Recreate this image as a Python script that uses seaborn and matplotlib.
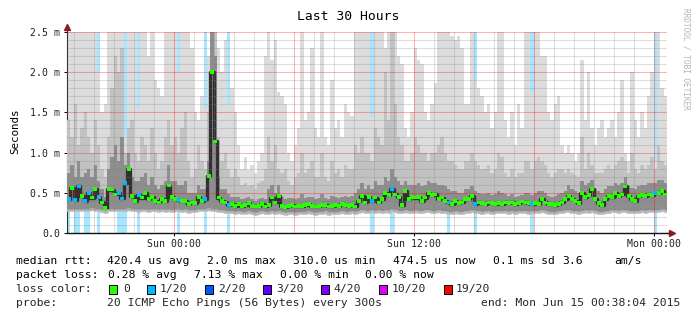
import numpy as np
import pandas as pd
import matplotlib
matplotlib.use("Agg")
import matplotlib.pyplot as plt
from matplotlib.patches import Rectangle
import seaborn as sns

# ---------------- data (10-minute steps, ms) ----------------
STEP_H = 1 / 6  # hours per sample

median_ms = [
    0.42, 0.56, 0.41, 0.58, 0.46, 0.40, 0.50, 0.44, 0.55, 0.45,
    0.38, 0.31, 0.55, 0.54, 0.48, 0.50, 0.43, 0.62, 0.80, 0.46,
    0.40, 0.47, 0.44, 0.50, 0.42, 0.45, 0.40, 0.38, 0.42, 0.40,
    0.59, 0.45, 0.42, 0.41, 0.40, 0.40, 0.36, 0.38, 0.37, 0.45,
    0.40, 0.42, 0.71, 2.00, 1.14, 0.44, 0.40, 0.38, 0.35, 0.36,
    0.34, 0.36, 0.34, 0.35, 0.37, 0.34, 0.33, 0.34, 0.36, 0.33,
    0.35, 0.44, 0.38, 0.46, 0.34, 0.32, 0.34, 0.35, 0.33, 0.34,
    0.34, 0.35, 0.36, 0.34, 0.33, 0.34, 0.35, 0.35, 0.33, 0.34,
    0.35, 0.34, 0.36, 0.35, 0.34, 0.35, 0.33, 0.40, 0.46, 0.38,
    0.45, 0.40, 0.44, 0.38, 0.42, 0.50, 0.47, 0.55, 0.48, 0.45,
    0.35, 0.52, 0.42, 0.45, 0.44, 0.45, 0.40, 0.44, 0.50, 0.47,
    0.48, 0.42, 0.44, 0.40, 0.38, 0.36, 0.40, 0.37, 0.38, 0.42,
    0.42, 0.46, 0.36, 0.38, 0.37, 0.36, 0.38, 0.37, 0.36, 0.37,
    0.36, 0.38, 0.37, 0.38, 0.36, 0.37, 0.39, 0.38, 0.37, 0.36,
    0.37, 0.36, 0.42, 0.38, 0.36, 0.36, 0.35, 0.36, 0.38, 0.42,
    0.46, 0.42, 0.40, 0.37, 0.50, 0.45, 0.47, 0.55, 0.42, 0.37,
    0.35, 0.42, 0.46, 0.45, 0.50, 0.46, 0.48, 0.58, 0.46, 0.42,
    0.40, 0.46, 0.47, 0.46, 0.48, 0.47, 0.50, 0.50, 0.52, 0.48,
]

loss_count = [
    1, 0, 1, 1, 0, 1, 1, 0, 0, 1,
    0, 0, 0, 0, 0, 1, 1, 1, 0, 0,
    0, 1, 0, 0, 0, 0, 0, 0, 0, 0,
    0, 0, 0, 1, 0, 0, 0, 0, 0, 0,
    0, 1, 0, 0, 0, 0, 0, 0, 1, 0,
    0, 0, 0, 0, 0, 0, 0, 0, 0, 0,
    0, 0, 0, 0, 0, 0, 0, 0, 0, 0,
    0, 0, 0, 0, 0, 0, 0, 0, 0, 0,
    0, 0, 0, 0, 0, 0, 0, 0, 0, 0,
    0, 1, 0, 0, 0, 0, 0, 1, 0, 0,
    0, 0, 0, 0, 0, 0, 0, 0, 0, 0,
    0, 0, 0, 0, 1, 0, 0, 0, 0, 0,
    0, 0, 1, 0, 0, 0, 0, 0, 0, 0,
    0, 0, 0, 0, 0, 0, 0, 0, 0, 1,
    0, 0, 0, 0, 0, 0, 0, 0, 0, 0,
    0, 0, 0, 0, 0, 0, 0, 0, 0, 0,
    0, 0, 0, 0, 0, 0, 0, 0, 0, 0,
    0, 0, 0, 0, 0, 0, 1, 0, 0, 0,
]

smoke_min = [
    0.29, 0.28, 0.29, 0.28, 0.29, 0.28, 0.29, 0.30, 0.28, 0.29,
    0.27, 0.26, 0.28, 0.29, 0.28, 0.29, 0.28, 0.29, 0.30, 0.28,
    0.28, 0.27, 0.28, 0.28, 0.27, 0.28, 0.28, 0.27, 0.28, 0.27,
    0.28, 0.27, 0.28, 0.29, 0.27, 0.28, 0.26, 0.27, 0.27, 0.28,
    0.28, 0.29, 0.30, 0.29, 0.28, 0.27, 0.27, 0.26, 0.26, 0.26,
    0.25, 0.26, 0.25, 0.25, 0.26, 0.25, 0.24, 0.25, 0.26, 0.25,
    0.25, 0.26, 0.25, 0.26, 0.25, 0.24, 0.25, 0.25, 0.24, 0.25,
    0.25, 0.25, 0.26, 0.25, 0.24, 0.25, 0.25, 0.26, 0.24, 0.25,
    0.25, 0.25, 0.26, 0.25, 0.25, 0.26, 0.25, 0.26, 0.27, 0.26,
    0.26, 0.27, 0.26, 0.27, 0.26, 0.27, 0.26, 0.28, 0.27, 0.26,
    0.26, 0.27, 0.26, 0.26, 0.27, 0.26, 0.26, 0.27, 0.27, 0.26,
    0.26, 0.27, 0.26, 0.26, 0.25, 0.25, 0.26, 0.25, 0.25, 0.26,
    0.26, 0.27, 0.26, 0.26, 0.25, 0.26, 0.26, 0.25, 0.26, 0.26,
    0.26, 0.26, 0.25, 0.26, 0.25, 0.26, 0.26, 0.26, 0.25, 0.26,
    0.26, 0.26, 0.27, 0.26, 0.25, 0.25, 0.25, 0.26, 0.26, 0.27,
    0.27, 0.26, 0.26, 0.25, 0.26, 0.27, 0.26, 0.27, 0.26, 0.25,
    0.25, 0.26, 0.26, 0.27, 0.27, 0.26, 0.27, 0.27, 0.26, 0.26,
    0.26, 0.26, 0.27, 0.26, 0.27, 0.27, 0.27, 0.27, 0.28, 0.27,
]

smoke_p75 = [
    0.75, 0.85, 0.70, 0.90, 0.70, 0.75, 0.80, 0.70, 0.85, 0.65,
    0.55, 0.45, 0.80, 0.95, 1.10, 0.90, 1.20, 0.85, 1.00, 0.70,
    0.65, 0.65, 0.70, 0.75, 0.60, 0.70, 0.60, 0.55, 0.60, 0.65,
    0.85, 0.65, 0.65, 0.60, 0.60, 0.65, 0.50, 0.50, 0.50, 0.60,
    0.55, 0.55, 0.90, 2.50, 2.20, 0.70, 0.55, 0.55, 0.48, 0.45,
    0.45, 0.45, 0.42, 0.44, 0.45, 0.42, 0.40, 0.42, 0.44, 0.42,
    0.55, 0.60, 0.50, 0.60, 0.45, 0.42, 0.44, 0.43, 0.42, 0.44,
    0.48, 0.44, 0.45, 0.45, 0.42, 0.43, 0.48, 0.44, 0.42, 0.46,
    0.45, 0.44, 0.45, 0.46, 0.45, 0.46, 0.50, 0.55, 0.62, 0.55,
    0.60, 0.55, 0.65, 0.60, 0.60, 0.70, 0.65, 0.80, 0.70, 0.65,
    0.60, 0.65, 0.60, 0.60, 0.60, 0.62, 0.58, 0.60, 0.65, 0.62,
    0.62, 0.60, 0.60, 0.58, 0.55, 0.52, 0.52, 0.50, 0.50, 0.55,
    0.55, 0.58, 0.52, 0.50, 0.48, 0.48, 0.50, 0.47, 0.48, 0.52,
    0.50, 0.48, 0.46, 0.48, 0.45, 0.46, 0.47, 0.50, 0.50, 0.47,
    0.50, 0.52, 0.52, 0.50, 0.46, 0.45, 0.46, 0.48, 0.50, 0.52,
    0.60, 0.55, 0.52, 0.50, 0.65, 0.60, 0.62, 0.66, 0.55, 0.52,
    0.50, 0.55, 0.58, 0.58, 0.62, 0.60, 0.62, 0.70, 0.58, 0.56,
    0.55, 0.58, 0.60, 0.60, 0.62, 0.62, 0.62, 0.66, 0.66, 0.62,
]

smoke_p90 = [
    1.40, 1.20, 1.60, 1.10, 1.30, 1.50, 1.20, 1.00, 1.40, 1.10,
    0.80, 0.70, 1.20, 1.80, 2.20, 2.00, 2.30, 1.00, 1.30, 1.40,
    1.00, 0.90, 1.20, 1.10, 0.90, 1.30, 1.00, 0.80, 0.90, 1.20,
    1.40, 1.10, 1.20, 1.00, 1.30, 1.50, 0.90, 0.70, 0.80, 1.10,
    0.90, 0.80, 1.50, 2.50, 2.50, 1.20, 0.90, 1.00, 0.80, 0.70,
    0.80, 0.70, 0.60, 0.62, 0.58, 0.60, 0.55, 0.62, 0.65, 0.80,
    1.20, 0.90, 1.10, 0.80, 0.75, 0.80, 0.65, 0.60, 0.70, 0.75,
    1.00, 0.75, 0.80, 0.90, 0.70, 0.70, 1.00, 0.70, 0.65, 0.90,
    0.75, 0.80, 0.70, 0.85, 0.80, 0.80, 1.10, 1.00, 1.20, 1.00,
    1.00, 0.90, 1.30, 1.20, 1.10, 2.00, 1.40, 2.50, 1.60, 1.20,
    1.10, 0.90, 0.90, 1.00, 1.20, 1.10, 1.00, 1.00, 0.90, 1.00,
    1.00, 1.10, 1.20, 1.00, 0.90, 0.90, 0.85, 0.80, 0.80, 0.90,
    0.90, 1.00, 0.90, 0.85, 0.80, 0.80, 0.85, 0.75, 0.80, 1.00,
    0.95, 0.75, 0.70, 0.80, 0.70, 0.75, 0.75, 0.90, 0.90, 0.80,
    0.90, 0.95, 0.90, 0.85, 0.75, 0.70, 0.75, 0.80, 0.80, 0.75,
    0.80, 0.75, 0.72, 0.70, 1.20, 0.80, 1.00, 0.85, 0.75, 0.75,
    0.75, 0.80, 0.85, 0.80, 0.85, 0.90, 0.95, 0.90, 0.75, 1.00,
    0.80, 0.75, 0.85, 0.80, 0.85, 0.95, 0.80, 1.10, 0.90, 0.85,
]

smoke_max = [
    2.50, 2.50, 2.50, 2.50, 2.50, 2.50, 2.50, 2.50, 2.50, 2.00,
    1.50, 1.60, 2.50, 2.50, 2.50, 2.50, 2.50, 1.20, 2.50, 2.50,
    2.50, 1.55, 2.50, 2.50, 2.20, 2.50, 1.90, 1.80, 1.70, 2.50,
    2.50, 2.50, 2.50, 2.00, 2.50, 2.50, 2.50, 2.30, 1.50, 1.40,
    1.70, 1.56, 2.20, 2.50, 2.50, 2.30, 2.00, 2.40, 1.60, 1.80,
    1.50, 1.10, 0.80, 0.95, 0.78, 0.85, 0.75, 0.90, 1.00, 2.20,
    2.50, 2.15, 2.40, 1.75, 1.70, 1.60, 1.00, 0.90, 1.10, 1.30,
    2.50, 1.40, 1.50, 2.30, 1.30, 1.20, 2.50, 1.20, 1.10, 1.90,
    1.30, 1.40, 1.20, 1.60, 1.50, 1.45, 2.50, 2.50, 2.50, 2.50,
    2.50, 1.44, 2.50, 2.50, 2.50, 2.30, 2.50, 2.50, 2.50, 2.20,
    2.10, 1.30, 1.20, 1.50, 2.30, 2.15, 2.10, 1.50, 1.40, 1.60,
    1.87, 2.50, 2.50, 2.50, 2.50, 2.45, 2.40, 2.45, 2.30, 1.60,
    1.60, 2.50, 1.90, 1.80, 1.70, 1.50, 1.60, 1.30, 1.50, 2.50,
    2.50, 1.40, 1.20, 1.50, 1.10, 1.60, 1.30, 2.50, 2.50, 1.75,
    2.50, 2.50, 2.20, 2.20, 1.50, 1.40, 1.60, 1.70, 1.10, 1.00,
    1.10, 1.00, 0.90, 1.00, 2.15, 1.40, 2.00, 1.30, 1.10, 1.30,
    1.40, 1.20, 1.30, 1.40, 1.20, 1.50, 1.90, 1.00, 0.90, 2.00,
    1.40, 1.20, 1.50, 1.30, 1.70, 2.00, 0.90, 2.50, 1.80, 1.70,
]

loss_levels = ["0", "1/20", "2/20", "3/20", "4/20", "10/20", "19/20"]
loss_colors = ["#26ff00", "#00b8ff", "#0059ff", "#5e00ff", "#7e00ff", "#dd00ff", "#ff0000"]

y_ticks = [0.0, 0.5, 1.0, 1.5, 2.0, 2.5]
y_tick_labels = ["0.0", "0.5 m", "1.0 m", "1.5 m", "2.0 m", "2.5 m"]
sun_midnight_h = 5 + 21 / 60 + 56 / 3600   # hours after start (Sat 18:38:04)
x_tick_pos = [sun_midnight_h, sun_midnight_h + 12, sun_midnight_h + 24]
x_tick_labels = ["Sun 00:00", "Sun 12:00", "Mon 00:00"]
total_hours = 30

title = "Last 30 Hours"
legend_rows = [
    [(16.4, "median rtt:"), (106.7, "420.4 us avg"), (206.7, "2.0 ms max"),
     (292.9, "310.0 us min"), (392.9, "474.5 us now"), (492.9, "0.1 ms sd"),
     (562.2, "3.6"), (614.2, "am/s")],
    [(16.4, "packet loss:"), (107.6, "0.28 % avg"), (193.8, "7.13 % max"),
     (279.6, "0.00 % min"), (365.3, "0.00 % now")],
]
loss_box_x = [108.9, 146.7, 205.3, 263.1, 320.9, 379.1, 444.0]
loss_text_x = [123.6, 160.0, 218.2, 276.0, 333.3, 391.6, 456.0]
probe_text = "20 ICMP Echo Pings (56 Bytes) every 300s"
end_text = "end: Mon Jun 15 00:38:04 2015"

# ---------------- drawing ----------------
sns.set_theme(style="white")
plt.rcParams["font.family"] = ["DejaVu Sans Mono", "DejaVu Sans"]

W, H = 697, 321
fig = plt.figure(figsize=(W / 100, H / 100), dpi=100)
fig.patch.set_facecolor("white")
ax = fig.add_axes([67 / W, 88 / H, 600 / W, 201 / H])
ax.set_facecolor("white")

med = np.array(median_ms)
loss = np.array(loss_count)
n = len(med)
t_edges = np.arange(n + 1) * STEP_H


def ext(a):
    a = np.asarray(a, dtype=float)
    return np.append(a, a[-1])


def level_of(c):
    if c <= 0:
        return 0
    if c <= 3:
        return c
    if c < 10:
        return 4
    if c < 19:
        return 5
    return 6


# loss bars (behind the smoke)
lidx = np.where(loss > 0)[0]
for i in lidx:
    ax.bar(t_edges[i], y_ticks[-1], width=STEP_H, align="edge",
           color=loss_colors[level_of(loss[i])], alpha=0.35, linewidth=0, zorder=1)

# smoke
ax.fill_between(t_edges, ext(smoke_min), ext(smoke_max), step="post",
                color="#dcdcdc", linewidth=0, zorder=2)
ax.fill_between(t_edges, ext(smoke_min), ext(smoke_p90), step="post",
                color="#c2c2c2", linewidth=0, zorder=3)
ax.fill_between(t_edges, ext(smoke_min), ext(smoke_p75), step="post",
                color="#8e8e8e", linewidth=0, zorder=4)
ax.step(t_edges, ext(med), where="post", color="#303030", lw=2.4, zorder=4.5)
ax.step(t_edges, ext(smoke_min), where="post", color="#b8b8b8", lw=1.8, zorder=4.6)

# grid (drawn on top, translucent like rrdtool)
for k in range(-5, 25):
    h = sun_midnight_h + k
    if 0 < h < total_hours:
        major = (k % 6 == 0)
        ax.axvline(h, color="#ff0000" if major else "#808080",
                   alpha=0.3 if major else 0.26, lw=0.75, zorder=5)
for j in range(1, 26):
    yv = j / 10
    major = (j % 5 == 0)
    ax.axhline(yv, color="#ff0000" if major else "#808080",
               alpha=0.3 if major else 0.26, lw=0.75, zorder=5)

# median points coloured by loss
df = pd.DataFrame({
    "hours": (np.arange(n) + 0.5) * STEP_H,
    "median": med,
    "loss": [loss_levels[level_of(c)] for c in loss],
})
sns.scatterplot(data=df, x="hours", y="median", hue="loss",
                palette=dict(zip(loss_levels, loss_colors)),
                marker="s", s=7, linewidth=0, edgecolor="none",
                legend=False, ax=ax, zorder=6)

ax.set_xlim(0, total_hours)
ax.set_ylim(0, y_ticks[-1])
ax.set_xlabel("")
ax.set_ylabel("")
ax.set_yticks(y_ticks, y_tick_labels)
ax.set_xticks(x_tick_pos, x_tick_labels)
ax.tick_params(axis="y", length=2, width=0.7, pad=3, labelsize=7.1,
               direction="out", colors="black", left=True)
ax.tick_params(axis="x", length=2, width=0.7, pad=2.5, labelsize=7.1,
               direction="out", colors="black", bottom=True)
for lab in ax.get_xticklabels() + ax.get_yticklabels():
    lab.set_color("#222222")
for t in ax.xaxis.get_ticklines():
    t.set_color("#ff8080")

for s in ["top", "right"]:
    ax.spines[s].set_visible(False)
ax.spines["left"].set_color("#333333")
ax.spines["left"].set_linewidth(0.8)
ax.spines["bottom"].set_color("#111111")
ax.spines["bottom"].set_linewidth(1.0)

# axis arrows
ax.plot([0, 0], [1, 1 + 5 / 201], transform=ax.transAxes, clip_on=False,
        color="#333333", lw=0.8, zorder=7)
ax.plot([0], [1 + 5 / 201], transform=ax.transAxes, clip_on=False,
        marker="^", ms=4, color="#8b1a1a", mec="#8b1a1a", zorder=7)
ax.plot([1, 1 + 5 / 600], [0, 0], transform=ax.transAxes, clip_on=False,
        color="#111111", lw=1.0, zorder=7)
ax.plot([1 + 5 / 600], [0], transform=ax.transAxes, clip_on=False,
        marker=">", ms=4, color="#8b1a1a", mec="#8b1a1a", zorder=7)

# texts
fig.text(348.5 / W, 1 - 16 / H, title, ha="center", va="center", fontsize=9.4, color="black")
fig.text(15 / W, 1 - 131 / H, "Seconds", rotation=90, ha="center", va="center",
         fontsize=7.8, color="black")
fig.text(686 / W, 1 - 8 / H, "RRDTOOL / TOBI OETIKER", rotation=270, ha="center", va="top",
         fontsize=5.6, color="#b4b4b4")

row_y = [261, 275, 289, 303]
for r, row in enumerate(legend_rows):
    for x, s in row:
        fig.text(x / W, 1 - row_y[r] / H, s, ha="left", va="center", fontsize=8.2, color="black")

fig.text(16.4 / W, 1 - row_y[2] / H, "loss color:", ha="left", va="center", fontsize=8.2)
for bx, tx, lab, col in zip(loss_box_x, loss_text_x, loss_levels, loss_colors):
    fig.patches.append(Rectangle((bx / W, 1 - 294 / H), 8 / W, 9 / H,
                                 transform=fig.transFigure, facecolor=col,
                                 edgecolor="black", linewidth=0.7))
    fig.text(tx / W, 1 - row_y[2] / H, lab, ha="left", va="center", fontsize=8.2)

fig.text(16.4 / W, 1 - row_y[3] / H, "probe:", ha="left", va="center", fontsize=8.2)
fig.text(106.7 / W, 1 - row_y[3] / H, probe_text, ha="left", va="center", fontsize=8.2)
fig.text(680 / W, 1 - row_y[3] / H, end_text, ha="right", va="center", fontsize=8.2)

fig.savefig("out.png", dpi=100, facecolor="white")
